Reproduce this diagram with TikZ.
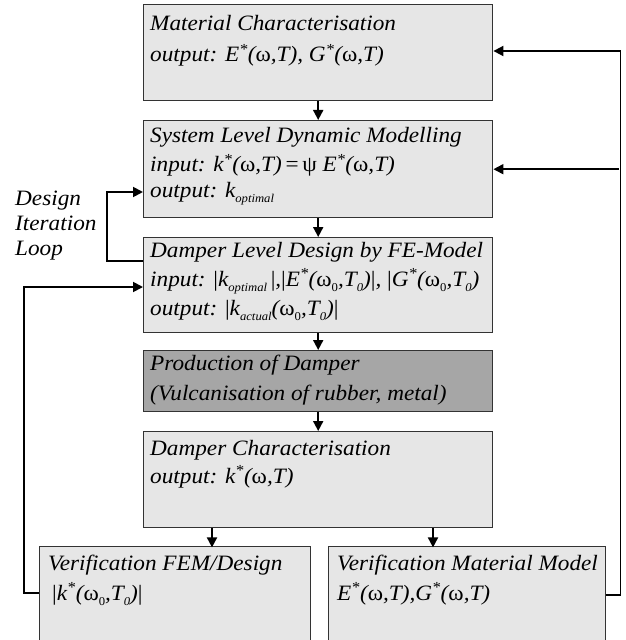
\documentclass[tikz,border=0pt]{standalone}
\usepackage{fontspec}
\setmainfont[FakeStretch=1.06]{Liberation Serif}
\usetikzlibrary{arrows.meta}
\definecolor{boxfill}{HTML}{E6E6E6}
\definecolor{darkfill}{HTML}{A6A6A6}
\definecolor{edgecol}{HTML}{333333}
\newcommand{\up}[1]{{\upshape #1}}
\newcommand{\sst}{\textsuperscript{*}}
\newcommand{\lo}[1]{\raisebox{-0.25em}{\fontsize{12}{12}\selectfont #1}}
\begin{document}
\begin{tikzpicture}[x=1bp,y=-1bp,
 box/.style={draw=edgecol, fill=boxfill, line width=1.4bp, anchor=north west, inner sep=0, minimum width=349bp},
 txt/.style={anchor=base west, inner sep=0, font=\itshape\fontsize{22}{25}\selectfont},
 arr/.style={line width=1.8bp, -{Triangle[length=10bp,width=10bp]}},
 ln/.style={line width=1.8bp}]
\useasboundingbox (0,0) rectangle (626,640);
\clip (0,0) rectangle (626,640);
% boxes
\node[box, minimum height=96bp] (b1) at (143,4) {};
\node[box, minimum height=97bp] (b2) at (143,120) {};
\node[box, minimum height=95bp] (b3) at (143,237) {};
\node[box, minimum height=61bp, fill=darkfill] (b4) at (143,350) {};
\node[box, minimum height=96bp] (b5) at (143,431) {};
\node[box, minimum height=110bp, minimum width=271bp] (v1) at (39,546) {};
\node[box, minimum height=110bp, minimum width=277bp] (v2) at (328,546) {};
% texts
\node[txt] (t11) at (150,31) {Material Characterisation};
\node[txt] (t12) at (150,62) {output: \textit{E}\sst(\up{ω},\textit{T}), \textit{G}\sst(\up{ω},\textit{T})};
\node[txt] (t21) at (150,143) {System Level Dynamic Modelling};
\node[txt] (t22) at (150,172) {input: \textit{k}\sst(\up{ω},\textit{T})\up{\,=\,ψ} \textit{E}\sst(\up{ω},\textit{T})};
\node[txt] (t23) at (150,197) {output: \textit{k}\lo{optimal}};
\node[txt] (t31) at (150,257) {Damper Level Design by FE-Model};
\node[txt] (t32) at (150,286) {input: \up{|}\textit{k}\lo{optimal}\,\up{|},\up{|}\textit{E}\sst(\up{ω\lo{0}},\textit{T}\lo{0})\up{|}, \up{|}\textit{G}\sst(\up{ω\lo{0}},\textit{T}\lo{0})};
\node[txt] (t33) at (150,315) {output: \up{|}\textit{k}\lo{actual}(\up{ω\lo{0}},\textit{T}\lo{0})\up{|}};
\node[txt] (t41) at (150,370) {Production of Damper};
\node[txt] (t42) at (150,400) {(Vulcanisation of rubber, metal)};
\node[txt] (t51) at (150,455) {Damper Characterisation};
\node[txt] (t52) at (150,483) {output: \textit{k}\sst(\up{ω},\textit{T})};
\node[txt] (t61) at (48,570) {Verification FEM/Design};
\node[txt] (t62) at (52,600) {\up{|}\textit{k}\sst(\up{ω\lo{0}},\textit{T}\lo{0})\up{|}};
\node[txt] (t71) at (337,570) {Verification Material Model};
\node[txt] (t72) at (337,600) {\textit{E}\sst(\up{ω},\textit{T}),\textit{G}\sst(\up{ω},\textit{T})};
\node[txt] (l1) at (15,205) {Design};
\node[txt] (l2) at (15,230) {Iteration};
\node[txt] (l3) at (15,255) {Loop};
% connectors
\draw[arr] (b1.south) -- (b2.north);
\draw[arr] (b2.south) -- (b3.north);
\draw[arr] (b3.south) -- (b4.north);
\draw[arr] (b4.south) -- (b5.north);
\draw[arr] (b5.south west) ++(69,0) -- ++(0,19);
\draw[arr] (b5.south west) ++(290,0) -- ++(0,19);
\draw[arr] ([yshift=-49bp]v2.north east) -- ++(14,0) |- ([yshift=-47bp]b1.north east);
\draw[arr] (619,0 |- b2.east) -- (b2.east);
\draw[arr] ([yshift=-47bp]v1.north west) -- ++(-15,0) |- ([yshift=-50bp]b3.north west);
\draw[arr] ([yshift=-24bp]b3.north west) -- ++(-36,0) |- ([yshift=-72bp]b2.north west);
\end{tikzpicture}
\end{document}
